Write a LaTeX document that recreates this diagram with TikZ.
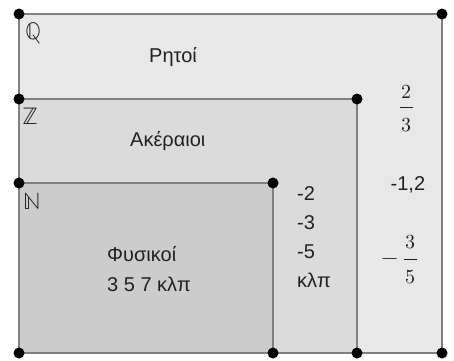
\documentclass[tikz,border=0pt]{standalone}
\usepackage{fontspec}
\setmainfont{Liberation Sans}
\newfontfamily\lmm{Latin Modern Math}
\definecolor{qfill}{gray}{0.91}
\definecolor{zfill}{gray}{0.86}
\definecolor{nfill}{gray}{0.80}
\definecolor{edge}{gray}{0.50}
\definecolor{ink}{gray}{0.13}
\begin{document}
\begin{tikzpicture}[x=1pt,y=-1pt,
  setbox/.style={draw=edge,line width=1.5pt},
  pt/.style={circle,fill=black,inner sep=0pt,minimum size=11pt},
  lbl/.style={text=ink,inner sep=0pt,font=\fontsize{20}{24}\selectfont,anchor=base west},
  digit/.style={text=ink,inner sep=0pt,font=\lmm\fontsize{20}{24}\selectfont,anchor=base},
  fracbar/.style={draw=ink,line width=0.9pt},
  bb/.style={text=ink,inner sep=0pt,font=\lmm\fontsize{24}{26}\selectfont,anchor=base}]
\useasboundingbox (0,0) rectangle (454,360);
% corner coordinates
\coordinate (q1) at (19,14);
\coordinate (q2) at (442,14);
\coordinate (q3) at (442,353);
\coordinate (q4) at (19,353);
\coordinate (z1) at (19,99);
\coordinate (z2) at (357,99);
\coordinate (z3) at (357,353);
\coordinate (n1) at (19,183);
\coordinate (n2) at (273,183);
\coordinate (n3) at (273,353);
% sets
\filldraw[setbox,fill=qfill] (q1) rectangle (q3);
\filldraw[setbox,fill=zfill] (z1) rectangle (z3);
\filldraw[setbox,fill=nfill] (n1) rectangle (n3);
% points
\foreach \p in {q1,q2,q3,q4,z1,z2,z3,n1,n2,n3}
  \node[pt] (d\p) at (\p) {};
% set symbols
\node[bb] (Q) at (33.5,39.5) {ℚ};
\node[bb] (Z) at (31,124) {ℤ};
\node[bb] (N) at (32.5,209) {ℕ};
% names
\node[lbl] (rhtoi) at (149,62.5) {Ρητοί};
\node[lbl] (akeraioi) at (130,146.5) {Ακέραιοι};
\node[lbl] (fysikoi) at (107,261) {Φυσικοί};
\node[lbl] (fysnum) at (107,291.5) {3 5 7 κλπ};
% integers
\node[lbl] (m2) at (297,200) {-2};
\node[lbl] (m3) at (297,229) {-3};
\node[lbl] (m5) at (297,258) {-5};
\node[lbl] (klp) at (297,287) {κλπ};
% rationals
\node[digit] (n23) at (406.5,98.5) {2};
\node[digit] (d23) at (406.5,131) {3};
\draw[fracbar] (400,107.3) -- (413,107.3);
\node[lbl] (m12) at (390.5,190) {-1,2};
\node[digit,font=\lmm\fontsize{22}{24}\selectfont] (minus) at (390.5,264.8) {−};
\node[digit] (n35) at (410.5,248) {3};
\node[digit] (d35) at (410.5,283) {5};
\draw[fracbar] (404,259.3) -- (417,259.3);
\end{tikzpicture}
\end{document}
